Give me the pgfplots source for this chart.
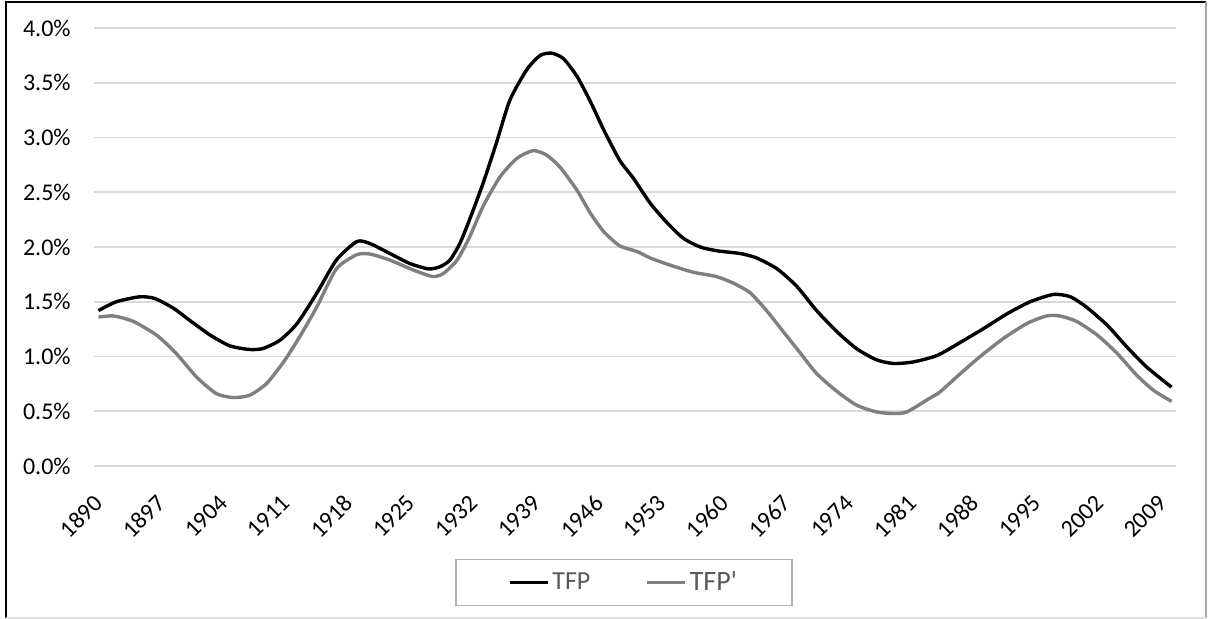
\documentclass[border=0pt]{standalone}
\usepackage{pgfplots}
\pgfplotsset{compat=1.18}
\usepackage{pgfplotstable}
\usepackage{fontspec}
\setmainfont{Carlito}
\definecolor{gridc}{HTML}{D9D9D9}
\definecolor{tfpgray}{HTML}{7F7F7F}
\definecolor{legtxt}{HTML}{595959}
\pgfplotstableread{
year val
1890.0 1.42
1892.0 1.50
1894.6 1.545
1896.3 1.53
1898.4 1.44
1900.2 1.33
1902.5 1.195
1904.7 1.097
1906.9 1.064
1908.4 1.073
1910.3 1.149
1912.2 1.30
1914.4 1.576
1916.6 1.88
1918.9 2.05
1920.4 2.03
1922.6 1.94
1924.8 1.85
1926.9 1.80
1928.2 1.82
1929.3 1.88
1930.4 2.03
1931.5 2.25
1933.0 2.58
1934.5 2.95
1936.0 3.34
1937.9 3.62
1939.4 3.75
1940.7 3.77
1942.0 3.72
1943.5 3.56
1945.0 3.33
1946.5 3.07
1948.3 2.79
1949.8 2.63
1951.7 2.40
1953.6 2.22
1955.4 2.08
1957.3 2.00
1959.2 1.965
1961.8 1.94
1963.6 1.90
1965.9 1.80
1968.1 1.64
1970.3 1.42
1972.6 1.225
1974.8 1.07
1977.0 0.97
1978.9 0.936
1981.1 0.95
1983.8 1.01
1986.4 1.13
1989.0 1.256
1991.6 1.39
1994.2 1.50
1996.8 1.567
1998.7 1.545
2000.5 1.45
2002.8 1.286
2005.0 1.088
2007.2 0.905
2010.0 0.72
}\tfp
\pgfplotstableread{
year val
1890.0 1.36
1891.7 1.37
1893.9 1.32
1896.5 1.195
1898.7 1.027
1901.0 0.81
1903.2 0.66
1905.1 0.625
1906.9 0.646
1908.8 0.753
1910.7 0.95
1912.5 1.18
1914.4 1.45
1916.6 1.80
1918.9 1.93
1920.4 1.935
1922.6 1.88
1925.2 1.79
1927.4 1.73
1928.6 1.76
1930.1 1.88
1931.5 2.09
1933.0 2.37
1934.9 2.64
1936.8 2.81
1938.6 2.88
1940.1 2.84
1941.6 2.73
1943.5 2.52
1945.0 2.31
1946.5 2.14
1948.3 2.01
1950.2 1.96
1951.7 1.90
1953.9 1.835
1956.5 1.77
1959.1 1.73
1961.0 1.67
1962.9 1.58
1964.7 1.42
1966.6 1.225
1968.5 1.03
1970.3 0.845
1972.6 0.68
1974.8 0.555
1977.0 0.494
1978.9 0.479
1980.4 0.494
1982.9 0.616
1984.1 0.676
1986.4 0.845
1988.6 1.0
1991.2 1.165
1993.8 1.30
1996.0 1.37
1997.5 1.37
1999.4 1.32
2001.7 1.195
2003.9 1.03
2006.1 0.83
2008.0 0.69
2010.0 0.59
}\tfpp
\begin{document}
\begin{tikzpicture}
\useasboundingbox (0,0) rectangle (604pt,309.5pt);
% outer frame
\draw[black, line width=1.2pt] (3pt,0.5pt) -- (3pt,308.5pt) -- (603pt,308.5pt);
\draw[gray!70, line width=1pt] (603pt,308.5pt) -- (603pt,0.5pt);
\draw[gray!25, line width=0.8pt] (3pt,0.5pt) -- (603pt,0.5pt);
\begin{axis}[
  at={(47pt,76.5pt)}, anchor=south west,
  scale only axis, width=541pt, height=219pt,
  xmin=1889.5, xmax=2010.5, ymin=0, ymax=4,
  axis line style={draw=none},
  major tick length=0pt,
  ymajorgrids, grid style={gridc, line width=0.8pt},
  ytick={0,0.5,1,1.5,2,2.5,3,3.5,4},
  yticklabels={0.0\%,0.5\%,1.0\%,1.5\%,2.0\%,2.5\%,3.0\%,3.5\%,4.0\%},
  xtick={1890,1897,1904,1911,1918,1925,1932,1939,1946,1953,1960,1967,1974,1981,1988,1995,2002,2009},
  xticklabels={1890,1897,1904,1911,1918,1925,1932,1939,1946,1953,1960,1967,1974,1981,1988,1995,2002,2009},
  /pgf/number format/assume math mode=true,
  tick label style={font=\fontsize{12}{14}\selectfont, text=black},
  yticklabel style={anchor=east, inner sep=0pt, xshift=-11.5pt},
  xticklabel style={xshift=-3pt, yshift=-13.5pt, rotate=45, anchor=north east, inner sep=0pt},
  legend columns=2,
  legend style={at={(0.4898,-0.266)}, anchor=center, draw=gray!60, line width=0.6pt,
    inner xsep=26pt, inner ysep=4pt,
    /tikz/every even column/.append style={column sep=26pt},
    nodes={inner xsep=1.5pt, text=legtxt}},
  legend image code/.code={\draw[#1] (0pt,0pt) -- (19pt,0pt);},
  clip=false,
]
\addplot[black, line width=1.7pt, smooth, tension=0.4] table[x=year, y=val] {\tfp};
\addlegendentry{\fontsize{13}{15}\selectfont TFP}
\addplot[tfpgray, line width=1.7pt, smooth, tension=0.4] table[x=year, y=val] {\tfpp};
\addlegendentry{\fontsize{14}{16}\selectfont TFP\textquotesingle}
\end{axis}
\end{tikzpicture}
\end{document}
